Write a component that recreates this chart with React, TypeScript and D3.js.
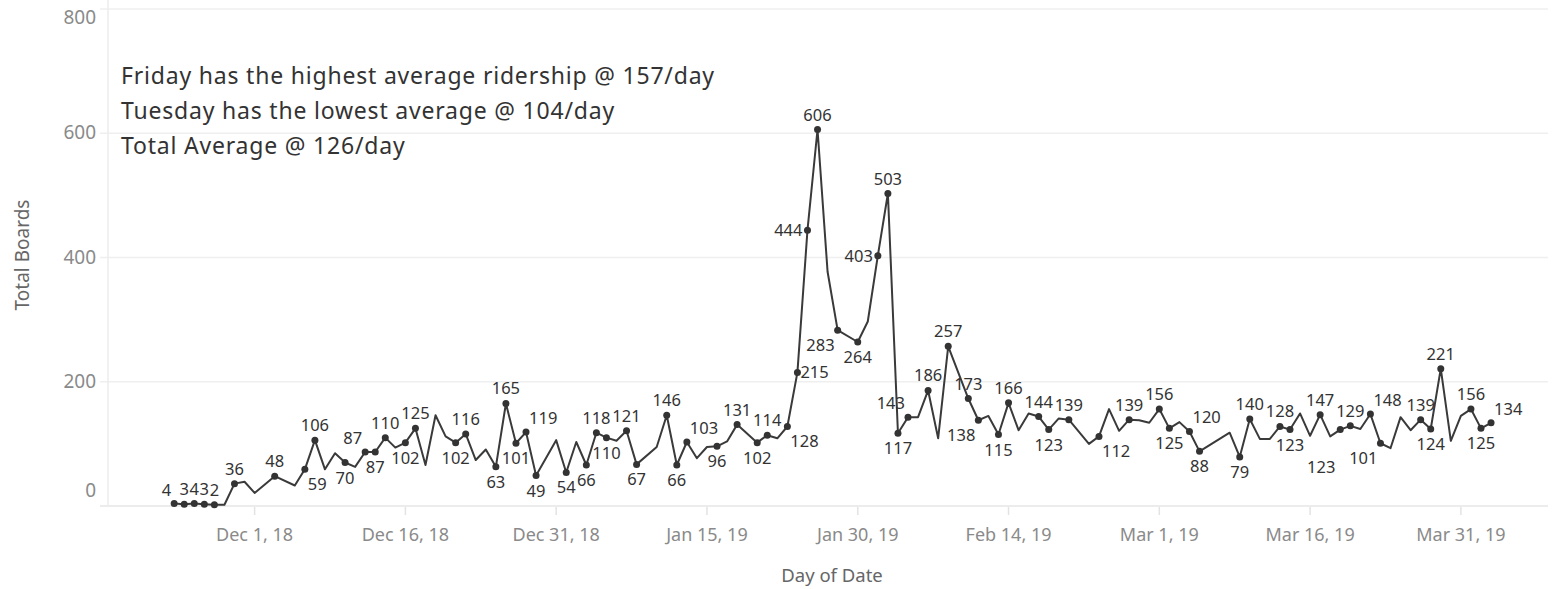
import React, { useRef, useEffect } from "react";
import * as d3 from "d3";

// daily boardings (days with no record are simply absent)
const dates = [
  "2018-11-23", "2018-11-24", "2018-11-25", "2018-11-26", "2018-11-27", "2018-11-28", "2018-11-29", "2018-11-30",
  "2018-12-01", "2018-12-03", "2018-12-05", "2018-12-06", "2018-12-07", "2018-12-08", "2018-12-09", "2018-12-10",
  "2018-12-11", "2018-12-12", "2018-12-13", "2018-12-14", "2018-12-15", "2018-12-16", "2018-12-17", "2018-12-18",
  "2018-12-19", "2018-12-20", "2018-12-21", "2018-12-22", "2018-12-23", "2018-12-24", "2018-12-25", "2018-12-26",
  "2018-12-27", "2018-12-28", "2018-12-29", "2018-12-31", "2019-01-01", "2019-01-02", "2019-01-03", "2019-01-04",
  "2019-01-05", "2019-01-06", "2019-01-07", "2019-01-08", "2019-01-10", "2019-01-11", "2019-01-12", "2019-01-13",
  "2019-01-14", "2019-01-15", "2019-01-16", "2019-01-17", "2019-01-18", "2019-01-20", "2019-01-21", "2019-01-22",
  "2019-01-23", "2019-01-24", "2019-01-25", "2019-01-26", "2019-01-27", "2019-01-28", "2019-01-30", "2019-01-31",
  "2019-02-01", "2019-02-02", "2019-02-03", "2019-02-04", "2019-02-05", "2019-02-06", "2019-02-07", "2019-02-08",
  "2019-02-10", "2019-02-11", "2019-02-12", "2019-02-13", "2019-02-14", "2019-02-15", "2019-02-16", "2019-02-17",
  "2019-02-18", "2019-02-19", "2019-02-20", "2019-02-22", "2019-02-23", "2019-02-24", "2019-02-25", "2019-02-26",
  "2019-02-27", "2019-02-28", "2019-03-01", "2019-03-02", "2019-03-03", "2019-03-04", "2019-03-05", "2019-03-08",
  "2019-03-09", "2019-03-10", "2019-03-11", "2019-03-12", "2019-03-13", "2019-03-14", "2019-03-15", "2019-03-16",
  "2019-03-17", "2019-03-18", "2019-03-19", "2019-03-20", "2019-03-21", "2019-03-22", "2019-03-23", "2019-03-24",
  "2019-03-25", "2019-03-26", "2019-03-27", "2019-03-28", "2019-03-29", "2019-03-30", "2019-03-31", "2019-04-01",
  "2019-04-02", "2019-04-03",
];
const boards = [
  4, 3, 4, 3, 2, 2, 36, 39,
  21, 48, 33, 59, 106, 59, 85, 70,
  63, 87, 87, 110, 94, 102, 125, 66,
  146, 112, 102, 116, 74, 91, 63, 165,
  101, 119, 49, 106, 54, 103, 66, 118,
  110, 105, 121, 67, 95, 146, 66, 103,
  77, 95, 96, 104, 131, 102, 114, 109,
  128, 215, 444, 606, 377, 283, 264, 297,
  403, 503, 117, 143, 143, 186, 109, 257,
  173, 138, 145, 115, 166, 122, 149, 144,
  123, 141, 139, 100, 112, 156, 121, 139,
  138, 134, 156, 125, 135, 120, 88, 118,
  79, 140, 108, 108, 128, 123, 149, 113,
  147, 112, 123, 129, 124, 148, 101, 93,
  143, 122, 139, 124, 221, 105, 145, 156,
  125, 134,
];

// days that get a mark label, and which side of the dot it sits on
const labelSide: Record<string, string> = {
  "2018-11-23": "tl", "2018-11-24": "t", "2018-11-25": "t", "2018-11-26": "t", "2018-11-27": "t",
  "2018-11-29": "t", "2018-12-03": "t", "2018-12-06": "br", "2018-12-07": "t", "2018-12-10": "b",
  "2018-12-12": "tl", "2018-12-13": "b", "2018-12-14": "t", "2018-12-16": "b", "2018-12-17": "t",
  "2018-12-21": "b", "2018-12-22": "t", "2018-12-25": "b", "2018-12-26": "t", "2018-12-27": "b",
  "2018-12-28": "tr", "2018-12-29": "b", "2019-01-01": "b", "2019-01-03": "b", "2019-01-04": "t",
  "2019-01-05": "b", "2019-01-07": "t", "2019-01-08": "b", "2019-01-11": "t", "2019-01-12": "b",
  "2019-01-13": "tr", "2019-01-16": "b", "2019-01-18": "t", "2019-01-20": "b", "2019-01-21": "t",
  "2019-01-23": "br", "2019-01-24": "r", "2019-01-25": "l", "2019-01-26": "t", "2019-01-28": "bl",
  "2019-01-30": "b", "2019-02-01": "l", "2019-02-02": "t", "2019-02-03": "b", "2019-02-04": "tl",
  "2019-02-06": "t", "2019-02-08": "t", "2019-02-10": "t", "2019-02-11": "bl", "2019-02-13": "b",
  "2019-02-14": "t", "2019-02-17": "t", "2019-02-18": "b", "2019-02-20": "t", "2019-02-23": "br",
  "2019-02-26": "t", "2019-03-01": "t", "2019-03-02": "b", "2019-03-04": "tr", "2019-03-05": "b",
  "2019-03-09": "b", "2019-03-10": "t", "2019-03-13": "t", "2019-03-14": "b", "2019-03-17": "t",
  "2019-03-19": "far", "2019-03-20": "t", "2019-03-22": "tr", "2019-03-23": "bl", "2019-03-27": "t",
  "2019-03-28": "b", "2019-03-29": "t", "2019-04-01": "t", "2019-04-02": "b", "2019-04-03": "tr",
};

const yTicks = [0, 200, 400, 600, 800];
const xTickDates = [
  "2018-12-01", "2018-12-16", "2018-12-31", "2019-01-15", "2019-01-30",
  "2019-02-14", "2019-03-01", "2019-03-16", "2019-03-31",
];
const notes = [
  "Friday has the highest average ridership @ 157/day",
  "Tuesday has the lowest average @ 104/day",
  "Total Average @ 126/day",
];

// label offsets: [dx, dy, anchor]
const sides: Record<string, [number, number, string]> = {
  t: [0, -9, "middle"],
  b: [0, 21, "middle"],
  l: [-5, 6, "end"],
  r: [3, 6, "start"],
  tl: [-3, -8, "end"],
  tr: [3, -8, "start"],
  bl: [-3, 21, "end"],
  br: [3, 21, "start"],
  far: [-19, 43, "middle"],
};

const App = () => {
  const ref = useRef(null);

  useEffect(() => {
    if (!ref.current) return;
    const svg = d3.select(ref.current);
    svg.selectAll("*").remove();

    const font = "'Noto Sans', 'Open Sans', sans-serif";
    const left = 108, right = 1548, top = 9, bottom = 506;
    const parse = d3.timeParse("%Y-%m-%d");

    const data = dates.map((d, i) => ({ key: d, date: parse(d), value: boards[i] }));

    const x = d3
      .scaleTime()
      .domain([new Date(2018, 10, 16, 10), new Date(2019, 3, 8, 16)])
      .range([left, right]);
    const y = d3.scaleLinear().domain([0, 800]).range([bottom, top]);

    // grid
    const grid = svg.append("g");
    grid
      .selectAll("line.h")
      .data(yTicks)
      .join("line")
      .attr("x1", left - 8)
      .attr("x2", right)
      .attr("y1", (d) => y(d))
      .attr("y2", (d) => y(d))
      .attr("stroke", (d) => (d === 0 ? "#e6e6e6" : "#efefef"))
      .attr("stroke-width", 1.5);
    grid
      .append("line")
      .attr("x1", left)
      .attr("x2", left)
      .attr("y1", 0)
      .attr("y2", bottom)
      .attr("stroke", "#ececec")
      .attr("stroke-width", 1.5);

    // y labels (tableau pulls the edge labels inside)
    svg
      .append("g")
      .selectAll("text")
      .data(yTicks)
      .join("text")
      .attr("x", 96)
      .attr("y", (d) => Math.min(Math.max(y(d), top + 9), bottom - 15) + 6)
      .attr("text-anchor", "end")
      .attr("font-family", font)
      .attr("font-size", 19)
      .attr("fill", "#8a8a8a")
      .text((d) => d);

    // x ticks
    const fmt = d3.timeFormat("%b %-d, %y");
    const xt = svg.append("g");
    xt.selectAll("line")
      .data(xTickDates.map((d) => parse(d)))
      .join("line")
      .attr("x1", (d) => x(d))
      .attr("x2", (d) => x(d))
      .attr("y1", bottom + 1)
      .attr("y2", bottom + 9)
      .attr("stroke", "#e3e3e3")
      .attr("stroke-width", 1.5);
    xt.selectAll("text")
      .data(xTickDates.map((d) => parse(d)))
      .join("text")
      .attr("x", (d) => x(d))
      .attr("y", 541)
      .attr("text-anchor", "middle")
      .attr("font-family", font)
      .attr("font-size", 18)
      .attr("fill", "#8a8a8a")
      .text((d) => fmt(d));

    // axis titles
    svg
      .append("text")
      .attr("x", 832)
      .attr("y", 582)
      .attr("text-anchor", "middle")
      .attr("font-family", font)
      .attr("font-size", 18.5)
      .attr("fill", "#666")
      .text("Day of Date");
    svg
      .append("text")
      .attr("transform", "translate(29,255) rotate(-90)")
      .attr("text-anchor", "middle")
      .attr("font-family", font)
      .attr("font-size", 19)
      .attr("fill", "#666")
      .text("Total Boards");

    // the line
    const line = d3
      .line()
      .x((d) => x(d.date))
      .y((d) => y(d.value));
    svg
      .append("path")
      .datum(data)
      .attr("d", line)
      .attr("fill", "none")
      .attr("stroke", "#3a3a3a")
      .attr("stroke-width", 2)
      .attr("stroke-linejoin", "round");

    const labelled = data.filter((d) => labelSide[d.key]);
    svg
      .append("g")
      .selectAll("circle")
      .data(labelled)
      .join("circle")
      .attr("cx", (d) => x(d.date))
      .attr("cy", (d) => y(d.value))
      .attr("r", 3.5)
      .attr("fill", "#333");

    svg
      .append("g")
      .selectAll("text")
      .data(labelled)
      .join("text")
      .attr("x", (d) => x(d.date) + sides[labelSide[d.key]][0])
      .attr("y", (d) => y(d.value) + sides[labelSide[d.key]][1])
      .attr("text-anchor", (d) => sides[labelSide[d.key]][2])
      .attr("font-family", font)
      .attr("font-size", 16.5)
      .attr("fill", "#333")
      .text((d) => d.value);

    // annotation
    svg
      .append("g")
      .selectAll("text")
      .data(notes)
      .join("text")
      .attr("x", 121)
      .attr("y", (d, i) => 84 + i * 35)
      .attr("font-family", font)
      .attr("font-size", 23)
      .attr("letter-spacing", 0.8)
      .attr("fill", "#333")
      .text((d) => d);
  }, []);

  return (
    <svg
      ref={ref}
      width={1555}
      height={589}
      style={{ position: "absolute", left: 0, top: 0, background: "#fff" }}
    />
  );
};

export default App;
